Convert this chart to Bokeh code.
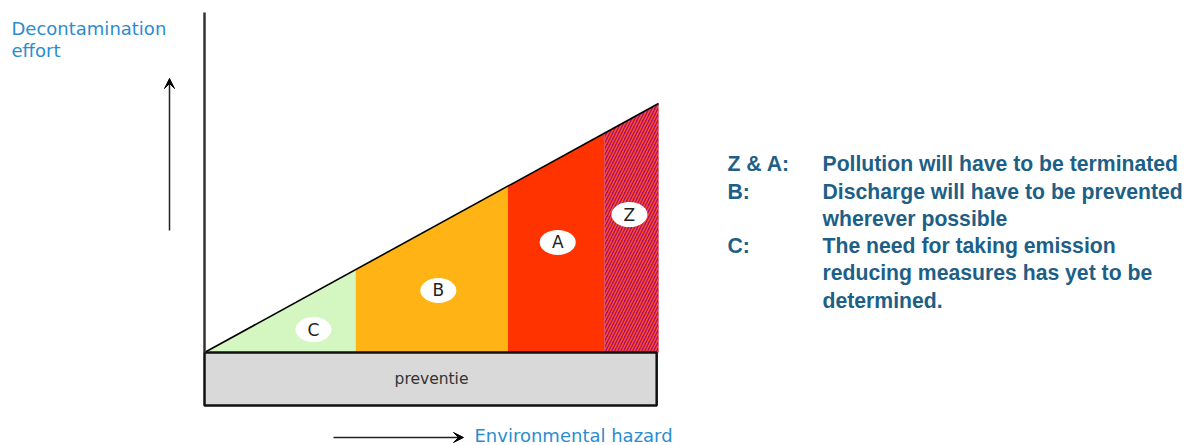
from bokeh.plotting import figure
from bokeh.models import Range1d, Arrow, VeeHead, ColumnDataSource
from bokeh.core.properties import value
from bokeh.embed import file_html
from bokeh.resources import INLINE

# ---- data -------------------------------------------------------------
zones = ["C", "B", "A", "Z"]
zone_start = [0.0, 33.3, 66.8, 88.1]      # environmental hazard (0-100)
zone_end = [33.3, 66.8, 88.1, 100.0]
effort_slope = 1.0                        # decontamination effort per unit hazard
zone_colors = ["#d4f7c1", "#ffb314", "#ff3300", "#a3106c"]
label_hazard = [24.0, 51.5, 77.8, 93.6]
label_effort = [9.2, 24.9, 44.2, 55.4]
preventie_depth = 21.3

legend_keys = ["Z & A:", "B:", "", "C:", "", ""]
legend_lines = ["Pollution will have to be terminated",
                "Discharge will have to be prevented",
                "wherever possible",
                "The need for taking emission",
                "reducing measures has yet to be",
                "determined."]

# ---- layout helpers (pixel -> data) ----------------------------------
X0, SX = 204.0, 4.54
Y0, SY = 352.0, 2.49
def X(px): return (px - X0) / SX
def Y(py): return (Y0 - py) / SY

W, H = 1186, 445
p = figure(width=W, height=H, output_backend="svg", toolbar_location=None,
           x_range=Range1d(X(0), X(W)), y_range=Range1d(Y(H), Y(0)),
           min_border=0, outline_line_color=None, background_fill_color="white",
           border_fill_color="white")
p.axis.visible = False
p.grid.visible = False

# zones
xs, ys = [], []
for s, e in zip(zone_start, zone_end):
    xs.append([s, e, e, s])
    ys.append([0, 0, e * effort_slope, s * effort_slope])
p.patches(xs[:3], ys[:3], fill_color=zone_colors[:3], line_color=None)
p.patches([xs[3]], [ys[3]], fill_color=zone_colors[3], line_color=None,
          hatch_pattern="/", hatch_color="#ff4a22", hatch_scale=6, hatch_weight=1.5)

# hypotenuse
p.line([zone_start[0], zone_end[-1]], [zone_start[0] * effort_slope, zone_end[-1] * effort_slope],
       line_color="black", line_width=1.6)

# preventie box
p.quad(left=zone_start[0], right=zone_end[-1] - 0.4, bottom=-preventie_depth, top=0,
       fill_color="#d9d9d9", line_color="#111111", line_width=2.5)
p.text(x=[(zone_start[0] + zone_end[-1]) / 2], y=[-preventie_depth / 2], text=["preventie"],
       text_font=value("DejaVu Sans"), text_font_size="15.5px", text_color="#333333",
       text_align="center", text_baseline="middle")

# vertical axis line
p.line([0, 0], [0, Y(12)], line_color="#333333", line_width=2.5)

# zone labels
src = ColumnDataSource(dict(x=label_hazard, y=label_effort, t=zones))
p.ellipse(x="x", y="y", width=36, height=25, width_units="screen", height_units="screen",
          source=src, fill_color="white", line_color=None)
p.text(x="x", y="y", text="t", source=src, text_font=value("DejaVu Sans"),
       text_font_size="17px", text_color="#222222", text_align="center",
       text_baseline="middle")

# arrows
p.add_layout(Arrow(end=VeeHead(size=10, fill_color="black", line_color="black", line_width=1),
                   x_start=X(169), y_start=Y(230), x_end=X(169), y_end=Y(78),
                   line_color="#222222", line_width=1.5))
p.add_layout(Arrow(end=VeeHead(size=10, fill_color="black", line_color="black", line_width=1),
                   x_start=X(333), y_start=Y(437), x_end=X(463), y_end=Y(437),
                   line_color="#222222", line_width=1.5))

blue = "#2a8dcf"
p.text(x=[X(11)], y=[Y(28)], text=["Decontamination"], text_font=value("DejaVu Sans"),
       text_font_size="18px", text_color=blue, text_baseline="alphabetic")
p.text(x=[X(11)], y=[Y(50)], text=["effort"], text_font=value("DejaVu Sans"),
       text_font_size="18px", text_color=blue, text_baseline="alphabetic")
p.text(x=[X(474)], y=[Y(435)], text=["Environmental hazard"], text_font=value("DejaVu Sans"),
       text_font_size="18px", text_color=blue, text_baseline="alphabetic")

# legend text
base = [163, 191, 218, 245, 272, 300]
dark = "#1d5f86"
p.text(x=[X(727)] * 6, y=[Y(b) for b in base], text=legend_keys,
       text_font=value("Liberation Sans"), text_font_style="bold", text_font_size="21.2px",
       text_color=dark, text_baseline="alphabetic")
p.text(x=[X(822)] * 6, y=[Y(b) for b in base], text=legend_lines,
       text_font=value("Liberation Sans"), text_font_style="bold", text_font_size="21.2px",
       text_color=dark, text_baseline="alphabetic")

open("out.html", "w").write(file_html(p, INLINE))
